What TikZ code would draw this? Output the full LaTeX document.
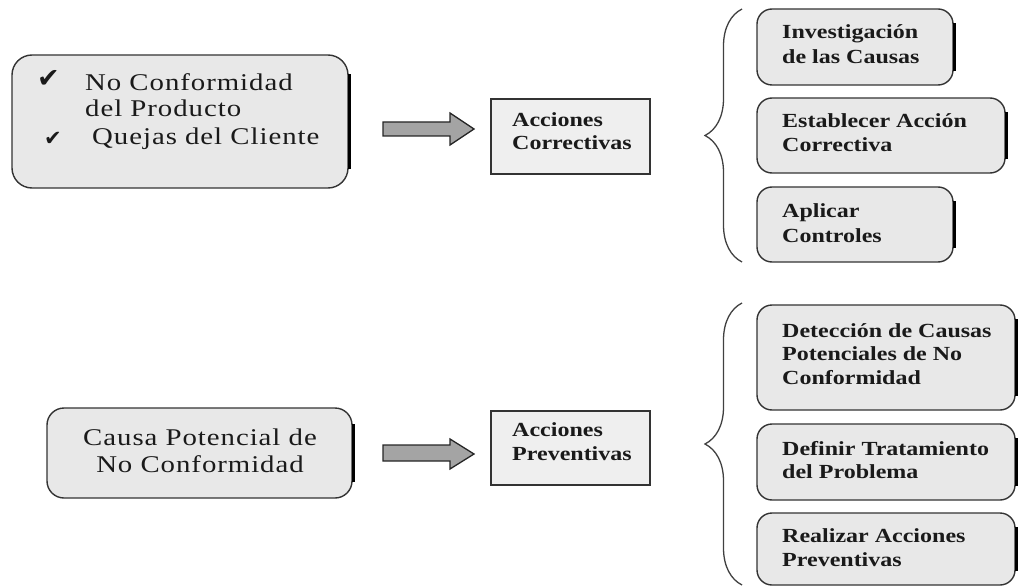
\documentclass[tikz,border=0pt]{standalone}
\usepackage{fontspec}
\setmainfont{Liberation Serif}[FakeStretch=1.2]
\newfontfamily\widefont{Liberation Serif}[FakeStretch=1.2,LetterSpace=4]
\newfontfamily\symfont{DejaVu Sans}
\usetikzlibrary{decorations.pathreplacing}

\definecolor{boxfill}{HTML}{E8E8E8}
\definecolor{plainfill}{HTML}{EFEFEF}
\definecolor{arrowfill}{HTML}{A4A4A4}
\definecolor{ink}{HTML}{1A1A1A}

% multi-line text nodes are placed by the baseline of their last line
\tikzset{
  roundbox/.style={draw=black!80, line width=1.4pt, fill=boxfill,
    rounded corners=#1, inner sep=0pt},
  roundbox/.default=15pt,
  plainbox/.style={draw=black!80, line width=1.3pt, fill=plainfill, inner sep=0pt},
  shadowbar/.style={line width=3.2pt, black},
  blockarrow/.style={draw=black!85, line width=1.3pt, fill=arrowfill, line join=miter},
  curly/.style={draw=black!75, line width=1.3pt,
    decorate, decoration={brace, amplitude=37pt, aspect=0.5}},
  boldtext/.style={inner sep=0pt, anchor=base west, align=left, text=ink,
    font=\fontsize{20}{#1}\selectfont\bfseries},
  boldtext/.default=24,
  lefttext/.style={inner sep=0pt, text=ink,
    font=\fontsize{24}{27}\widefont},
  tick/.style={inner sep=0pt, anchor=base west, text=ink}
}

\begin{document}
\begin{tikzpicture}[x=1pt,y=-1pt]
\useasboundingbox (0,0) rectangle (1019,588);

% ---------- upper row: corrective actions ----------
\node (src1) [roundbox=20pt, minimum width=336pt, minimum height=133pt] at (180,121.5) {};
\draw[shadowbar] ([xshift=1pt,yshift=-20pt]src1.north east) -- ([xshift=1pt,yshift=20pt]src1.south east);
\node (chk1) [tick, font=\fontsize{27}{27}\symfont] at (37,88) {✔};
\node (src1a) [lefttext, anchor=base west] at (85,91) {No Conformidad};
\node (src1b) [lefttext, anchor=base west] at (85,117) {del Producto};
\node (chk2) [tick, font=\fontsize{21}{21}\symfont] at (44,146) {✔};
\node (src1c) [lefttext, anchor=base west] at (92,145) {Quejas del Cliente};

\coordinate (a1) at (383,129);
\draw[blockarrow] (a1) ++(0,-7) -- ++(67,0) -- ++(0,-9) -- (474,129) -- (450,145) -- ++(0,-9) -- ++(-67,0) -- cycle;

\node (corr) [plainbox, minimum width=159pt, minimum height=75pt] at (570.5,136.5) {};
\node (corrt) [boldtext] at (512,150) {Acciones\\Correctivas};

\draw[curly] (742,262) -- (742,9);

\node (r1) [roundbox, minimum width=196pt, minimum height=76pt] at (855,47) {};
\draw[shadowbar] ([xshift=1pt,yshift=-15pt]r1.north east) -- ([xshift=1pt,yshift=15pt]r1.south east);
\node (r1t) [boldtext=25] at (782,64) {Investigación\\de las Causas};

\node (r2) [roundbox, minimum width=248pt, minimum height=75pt] at (881,135.5) {};
\draw[shadowbar] ([xshift=1pt,yshift=-15pt]r2.north east) -- ([xshift=1pt,yshift=15pt]r2.south east);
\node (r2t) [boldtext] at (782,152) {Establecer Acción\\Correctiva};

\node (r3) [roundbox, minimum width=196pt, minimum height=75pt] at (855,224.5) {};
\draw[shadowbar] ([xshift=1pt,yshift=-15pt]r3.north east) -- ([xshift=1pt,yshift=15pt]r3.south east);
\node (r3t) [boldtext=25] at (782,242) {Aplicar\\Controles};

% ---------- lower row: preventive actions ----------
\node (src2) [roundbox=17pt, minimum width=305pt, minimum height=90pt] at (199.5,453) {};
\draw[shadowbar] ([xshift=1pt,yshift=-17pt]src2.north east) -- ([xshift=1pt,yshift=17pt]src2.south east);
\node (src2t) [lefttext, anchor=base, align=center] at (200,472) {Causa Potencial de\\No Conformidad};

\coordinate (a2) at (383,453);
\draw[blockarrow] (a2) ++(0,-8) -- ++(67,0) -- ++(0,-6) -- (474,454) -- (450,469) -- ++(0,-8) -- ++(-67,0) -- cycle;

\node (prev) [plainbox, minimum width=159pt, minimum height=74pt] at (570.5,448) {};
\node (prevt) [boldtext] at (512,460) {Acciones\\Preventivas};

\draw[curly] (742,585) -- (742,303);

\node (r4) [roundbox, minimum width=258pt, minimum height=105pt] at (886,357.5) {};
\draw[shadowbar] ([xshift=1pt,yshift=-15pt]r4.north east) -- ([xshift=1pt,yshift=15pt]r4.south east);
\node (r4t) [boldtext=23.5] at (782,384) {Detección de Causas\\Potenciales de No\\Conformidad};

\node (r5) [roundbox, minimum width=258pt, minimum height=76pt] at (886,462) {};
\draw[shadowbar] ([xshift=1pt,yshift=-15pt]r5.north east) -- ([xshift=1pt,yshift=15pt]r5.south east);
\node (r5t) [boldtext=23] at (782,478) {Definir Tratamiento\\del Problema};

\node (r6) [roundbox, minimum width=258pt, minimum height=72pt] at (886,549) {};
\draw[shadowbar] ([xshift=1pt,yshift=-15pt]r6.north east) -- ([xshift=1pt,yshift=15pt]r6.south east);
\node (r6t) [boldtext] at (782,566) {Realizar Acciones\\Preventivas};
\end{tikzpicture}
\end{document}
